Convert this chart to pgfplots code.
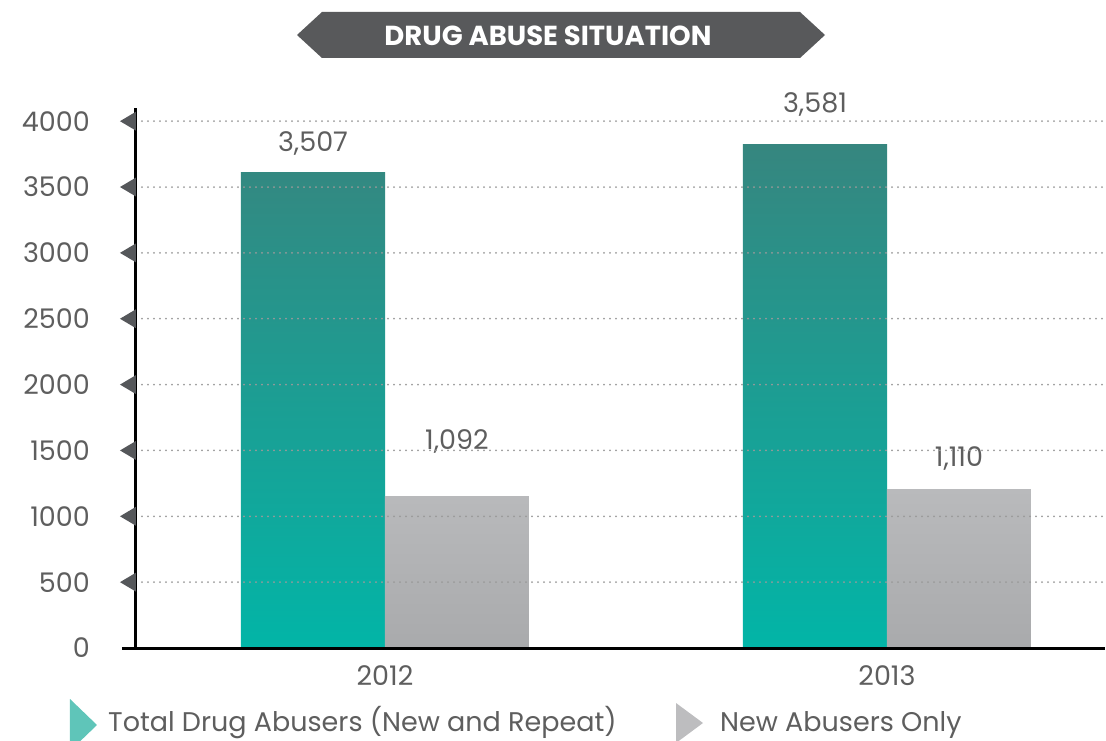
\documentclass[border=0pt]{standalone}
\usepackage{pgfplots}
\pgfplotsset{compat=1.18}
\usepackage{fontspec}
\setmainfont{Poppins}
\definecolor{tealA}{HTML}{02B5A7}
\definecolor{tealM}{HTML}{1FA598}
\definecolor{tealT}{HTML}{36867F}
\definecolor{grayA}{HTML}{B9BABC}
\definecolor{grayB}{HTML}{A9AAAC}
\definecolor{txt}{HTML}{5E5E5E}
\definecolor{banner}{HTML}{58595B}
\definecolor{tickc}{HTML}{55575A}
\definecolor{gridc}{HTML}{9A9A9A}
\definecolor{legteal}{HTML}{5FC5B9}
\definecolor{leggray}{HTML}{BDBDBF}
\pgfdeclareplotmark{lefttri}{%
  \pgfpathmoveto{\pgfqpoint{0pt}{9.5pt}}%
  \pgfpathlineto{\pgfqpoint{-16pt}{0pt}}%
  \pgfpathlineto{\pgfqpoint{0pt}{-9.5pt}}%
  \pgfpathclose\pgfusepathqfill}
\begin{document}
\begin{tikzpicture}
\useasboundingbox (-136pt,-92pt) rectangle (970pt,648pt);
\begin{axis}[
  scale only axis, width=969pt, height=540pt,
  at={(0pt,0pt)}, anchor=south west,
  xmin=-0.4960, xmax=1.4343, ymin=0, ymax=4100,
  axis lines*=left,
  axis line style={black, line width=3pt},
  x axis line style={shorten <=-14pt},
  clip=false, axis on top,
  ytick={0,500,...,4000},
  xtick={0,1}, xticklabels={2012,2013},
  major tick length=0pt,
  ymajorgrids,
  grid style={gridc, line width=2pt, dash pattern=on 0pt off 6pt, line cap=round},
  /pgf/number format/assume math mode=true,
  /pgf/number format/1000 sep={},
  yticklabel style={font=\fontsize{27}{32}\selectfont, text=txt, anchor=east, inner sep=0pt, xshift=-46pt},
  xticklabel style={font=\fontsize{27}{32}\selectfont, text=txt, anchor=north, inner sep=0pt, yshift=-17pt},
  ybar, bar width=0.2869,
]
\addplot[draw=none, bar shift=-0.1434, top color=tealT, middle color=tealM, bottom color=tealA] coordinates {(0,3613) (1,3825)};
\addplot[draw=none, bar shift=0.1434, top color=grayA, bottom color=grayB] coordinates {(0,1154) (1,1207)};
\addplot[only marks, mark=lefttri, tickc] coordinates {(-0.4960,500) (-0.4960,1000) (-0.4960,1500) (-0.4960,2000) (-0.4960,2500) (-0.4960,3000) (-0.4960,3500) (-0.4960,4000)};
\node[text=txt, font=\fontsize{27}{32}\selectfont] at (axis cs:-0.1434,3833) {3,507};
\node[text=txt, font=\fontsize{27}{32}\selectfont] at (axis cs:0.1434,1571) {1,092};
\node[text=txt, font=\fontsize{27}{32}\selectfont] at (axis cs:0.8566,4129) {3,581};
\node[text=txt, font=\fontsize{27}{32}\selectfont] at (axis cs:1.1434,1442) {1,110};
\end{axis}
% title banner
\fill[banner] (161pt,613pt) -- (186pt,636pt) -- (664pt,636pt) -- (689pt,613pt) -- (664pt,590pt) -- (186pt,590pt) -- cycle;
\node[text=white, font=\fontsize{27.5}{32}\selectfont\bfseries] at (412pt,612pt) {DRUG ABUSE SITUATION};
% legend
\fill[legteal] (-66pt,-51pt) -- (-39pt,-77pt) -- (-66pt,-103pt) -- cycle;
\node[anchor=base west, inner sep=0pt, text=txt, font=\fontsize{27}{32}\selectfont] at (-28pt,-83pt) {Total Drug Abusers (New and Repeat)};
\fill[leggray] (540pt,-55pt) -- (567pt,-75pt) -- (540pt,-95pt) -- cycle;
\node[anchor=base west, inner sep=0pt, text=txt, font=\fontsize{27}{32}\selectfont] at (584pt,-83pt) {New Abusers Only};
\end{tikzpicture}
\end{document}
